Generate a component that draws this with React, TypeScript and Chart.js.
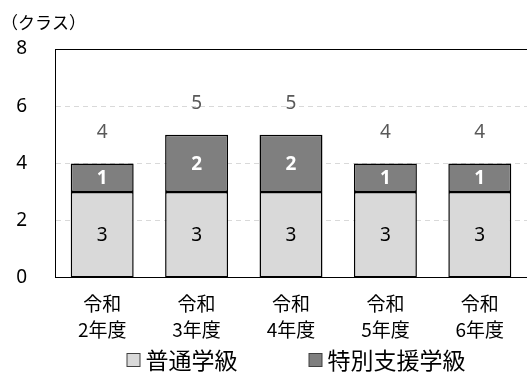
import React, { useEffect, useRef } from 'react';
import { Chart, registerables } from 'chart.js';

Chart.register(...registerables);

const categories: string[][] = [
  ['令和', '2年度'],
  ['令和', '3年度'],
  ['令和', '4年度'],
  ['令和', '5年度'],
  ['令和', '6年度'],
];
const regularClasses = [3, 3, 3, 3, 3];
const specialClasses = [1, 2, 2, 1, 1];
const seriesNames = ['普通学級', '特別支援学級'];
const seriesColors = ['#d9d9d9', '#7f7f7f'];
const unitLabel = '（クラス）';
const yMax = 8;
const yStep = 2;

const JP = '"Noto Sans CJK JP", "Noto Sans", sans-serif';
const NUM = '"Noto Sans", "Open Sans", sans-serif';

const labelsPlugin = {
  id: 'customLabels',
  afterDraw(chart: any) {
    const ctx = chart.ctx;
    const yScale = chart.scales.y;
    ctx.save();
    // unit label
    ctx.fillStyle = '#000';
    ctx.font = `17px ${JP}`;
    ctx.textAlign = 'left';
    ctx.textBaseline = 'middle';
    ctx.fillText(unitLabel, 1, 23);

    // segment labels
    chart.data.datasets.forEach((ds: any, di: number) => {
      const meta = chart.getDatasetMeta(di);
      meta.data.forEach((el: any, i: number) => {
        const v = ds.data[i];
        const cy = (el.y + el.base) / 2;
        ctx.textAlign = 'center';
        ctx.textBaseline = 'middle';
        if (di === 0) {
          ctx.fillStyle = '#000';
          ctx.font = `19px ${NUM}`;
        } else {
          ctx.fillStyle = '#fff';
          ctx.font = `bold 19px ${NUM}`;
        }
        ctx.fillText(String(v), el.x, cy + 1);
      });
    });

    // totals
    const meta0 = chart.getDatasetMeta(0);
    meta0.data.forEach((el: any, i: number) => {
      const total = regularClasses[i] + specialClasses[i];
      const y = yScale.getPixelForValue(total) - 31;
      ctx.fillStyle = '#595959';
      ctx.font = `19px ${NUM}`;
      ctx.textAlign = 'center';
      ctx.textBaseline = 'middle';
      ctx.fillText(String(total), el.x, y);
    });

    // legend
    ctx.font = `23px ${JP}`;
    const box = 14;
    const gap = 5;
    const spacing = 71;
    const widths = seriesNames.map((n) => ctx.measureText(n).width);
    const totalW = widths.reduce((a, w) => a + box + gap + w, 0) + spacing;
    const area = chart.chartArea;
    let x = (area.left + area.right) / 2 + 5 - totalW / 2;
    const ly = 360;
    seriesNames.forEach((n, i) => {
      ctx.fillStyle = seriesColors[i];
      ctx.fillRect(x + 0.5, ly - box / 2 + 0.5, box - 1, box - 1);
      ctx.strokeStyle = '#404040';
      ctx.lineWidth = 1;
      ctx.strokeRect(x + 0.5, ly - box / 2 + 0.5, box - 1, box - 1);
      ctx.fillStyle = '#000';
      ctx.textAlign = 'left';
      ctx.textBaseline = 'middle';
      ctx.fillText(n, x + box + gap, ly);
      x += box + gap + widths[i] + spacing;
    });
    ctx.restore();
  },
};

export default function App() {
  const canvasRef = useRef<HTMLCanvasElement | null>(null);

  useEffect(() => {
    document.body.style.margin = '0';
    const canvas = canvasRef.current;
    if (!canvas) return;
    const chart = new Chart(canvas, {
      type: 'bar',
      data: {
        labels: categories,
        datasets: [
          {
            label: seriesNames[0],
            data: regularClasses,
            backgroundColor: seriesColors[0],
            borderColor: '#000',
            borderWidth: 1.5,
            borderSkipped: false,
          },
          {
            label: seriesNames[1],
            data: specialClasses,
            backgroundColor: seriesColors[1],
            borderColor: '#000',
            borderWidth: 1.5,
            borderSkipped: false,
          },
        ],
      },
      options: {
        responsive: false,
        animation: false,
        devicePixelRatio: 1,
        layout: { padding: { top: 49, right: 0, bottom: 24, left: 0 } },
        datasets: {
          bar: { categoryPercentage: 1, barPercentage: 0.667 },
        },
        plugins: {
          legend: { display: false },
          tooltip: { enabled: false },
          title: { display: false },
        },
        scales: {
          x: {
            stacked: true,
            grid: { display: false, drawTicks: false },
            border: { display: true, color: '#000', width: 1 },
            ticks: {
              color: '#000',
              font: { family: JP, size: 19, lineHeight: 1.37 },
              padding: 13,
              maxRotation: 0,
              autoSkip: false,
            },
          },
          y: {
            stacked: true,
            min: 0,
            max: yMax,
            grid: {
              drawTicks: false,
              color: (c: any) => (c.tick && (c.tick.value === yMax || c.tick.value === 0) ? '#000' : '#d9d9d9'),
              lineWidth: 1,
            },
            border: {
              display: true,
              color: '#000',
              width: 1,
              dash: (c: any) => (c.tick && (c.tick.value === yMax || c.tick.value === 0) ? [] : [5, 4]),
            } as any,
            ticks: {
              stepSize: yStep,
              color: '#000',
              font: { family: NUM, size: 19 },
              padding: 28,
            },
            afterFit(scale: any) {
              scale.width = 55;
            },
          },
        },
      },
      plugins: [labelsPlugin],
    });
    return () => chart.destroy();
  }, []);

  return (
    <div style={{ width: 527, height: 380 }}>
      <canvas ref={canvasRef} width={527} height={380} style={{ width: 527, height: 380, display: 'block' }} />
    </div>
  );
}
